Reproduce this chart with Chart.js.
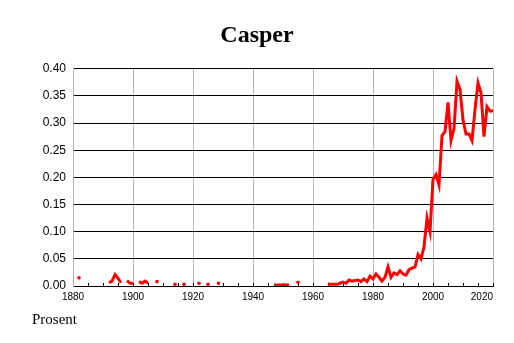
<!DOCTYPE html>
<html>
<head>
<meta charset="utf-8">
<script src="https://cdn.jsdelivr.net/npm/chart.js@4"></script>
<style>
  body { margin: 0; background: #fff; }
  canvas { display: block; }
</style>
</head>
<body>
<canvas id="nameChart" width="514" height="343"></canvas>
<script>
// Casper, andel av fødte (prosent). null = hull i serien
const years = [
    1882, 1883,
    1892, 1893, 1894, 1895, 1896, 1897,
    1898, 1899, 1900, 1901,
    1902, 1903, 1904, 1905, 1906,
    1908, 1909, 1914, 1915, 1917, 1918, 1922, 1923, 1925, 1926,
    1928, 1929, 1930,
    1947, 1948, 1949, 1950, 1951, 1952, 1953,
    1955, 1956,
    1965, 1966, 1967, 1968, 1969, 1970, 1971, 1972, 1973, 1974,
    1975, 1976, 1977, 1978, 1979, 1980, 1981, 1982, 1983, 1984,
    1985, 1986, 1987, 1988, 1989, 1990, 1991, 1992, 1993, 1994,
    1995, 1996, 1997, 1998, 1999, 2000, 2001, 2002, 2003, 2004,
    2005, 2006, 2007, 2008, 2009, 2010, 2011, 2012, 2013, 2014,
    2015, 2016, 2017, 2018, 2019, 2020
];
const share = [
    0.015, null,
    0.006, 0.009, 0.021, 0.014, 0.006, null,
    0.010, 0.005, 0.005, null,
    0.008, 0.005, 0.009, 0.005, null,
    0.008, null, 0.003, null, 0.003, null, 0.005, null, 0.003, null,
    0.006, 0.004, null,
    0.002, 0.002, 0.002, 0.002, 0.002, 0.002, null,
    0.007, null,
    0.004, 0.003, 0.003, 0.003, 0.005, 0.007, 0.005, 0.011, 0.009, 0.010,
    0.011, 0.008, 0.013, 0.008, 0.018, 0.013, 0.022, 0.016, 0.009, 0.016,
    0.035, 0.016, 0.024, 0.021, 0.028, 0.022, 0.020, 0.030, 0.033, 0.035,
    0.058, 0.050, 0.072, 0.125, 0.100, 0.196, 0.205, 0.186, 0.277, 0.284,
    0.338, 0.268, 0.290, 0.377, 0.362, 0.306, 0.280, 0.280, 0.268, 0.325,
    0.374, 0.356, 0.275, 0.330, 0.322, 0.323
];
const xTicks = [1880, 1880, 1885, 1890, 1895, 1900, 1905, 1910, 1915, 1920, 1925, 1930, 1935, 1940, 1945,
    1950, 1955, 1960, 1965, 1970, 1975, 1980, 1985, 1990, 1995, 2000, 2005, 2010, 2015, 2020];

const points = years.map((yr, i) => ({ x: yr, y: share[i] }));

// enkeltpunkter uten naboer vises som små prikker
const lonePoint = ctx => {
    const d = ctx.dataset.data, i = ctx.dataIndex;
    if (!d[i] || d[i].y === null) return 0;
    const prev = d[i - 1], next = d[i + 1];
    return (!prev || prev.y === null) && (!next || next.y === null) ? 1.8 : 0;
};

// "Prosent" nede til venstre
const cornerLabel = {
    id: 'cornerLabel',
    afterDraw(chart) {
        const ctx = chart.ctx;
        ctx.save();
        ctx.font = '15px "Liberation Serif"';
        ctx.fillStyle = '#000';
        ctx.textAlign = 'left';
        ctx.textBaseline = 'alphabetic';
        ctx.fillText('Prosent', 32, 324);
        ctx.restore();
    }
};

new Chart(document.getElementById('nameChart'), {
    type: 'line',
    data: {
        datasets: [{
            data: points,
            borderColor: '#ff0000',
            backgroundColor: '#ff0000',
            borderWidth: 3,
            pointRadius: lonePoint,
            pointBorderWidth: 0,
            pointHoverRadius: 0,
            spanGaps: false,
            tension: 0
        }]
    },
    options: {
        responsive: false,
        animation: false,
        layout: { padding: 0 },
        scales: {
            x: {
                type: 'linear', min: 1880, max: 2020,
                afterBuildTicks: s => { s.ticks = xTicks.map(v => ({ value: v })); },
                afterFit: s => { s.height = 57; },
                grid: {
                    color: c => (c.tick && c.tick.value % 20 === 0) ? '#b4b4b4' : 'rgba(0,0,0,0)',
                    tickColor: '#000',
                    tickLength: -3,
                    lineWidth: 1
                },
                border: { color: '#000' },
                ticks: {
                    autoSkip: false, maxRotation: 0, align: 'inner', padding: 8,
                    color: '#000', font: { family: '"Liberation Sans"', size: 10 },
                    callback: (v, i) => (i > 0 && v % 20 === 0) ? String(v) : ''
                }
            },
            y: {
                min: 0, max: 0.4,
                afterFit: s => { s.width = 73; },
                grid: { color: '#000', drawTicks: false },
                border: { color: '#b4b4b4' },
                ticks: {
                    stepSize: 0.05, padding: 7, color: '#000',
                    font: { family: '"Liberation Sans"', size: 12 },
                    callback: v => v.toFixed(2)
                }
            },
            yRight: {
                position: 'right', display: true,
                afterFit: s => { s.width = 21; },
                grid: { display: false }, border: { display: false }, ticks: { display: false }
            }
        },
        plugins: {
            legend: { display: false },
            tooltip: { enabled: false },
            title: {
                display: true, text: 'Casper', color: '#000',
                font: { family: '"Liberation Serif"', size: 24, weight: 'bold' },
                padding: { top: 21, bottom: 19 }
            }
        }
    },
    plugins: [cornerLabel]
});
</script>
</body>
</html>
